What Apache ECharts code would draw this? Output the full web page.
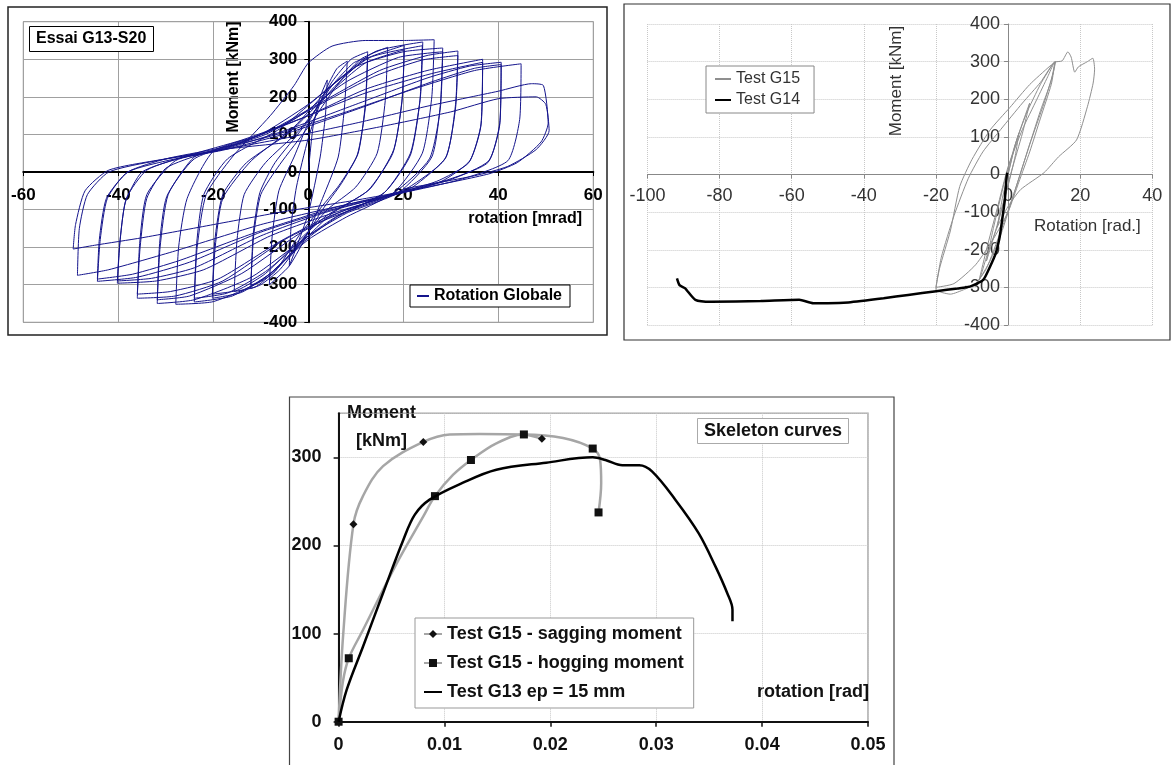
<!DOCTYPE html>
<html>
<head>
<meta charset="utf-8">
<title>Moment - rotation</title>
<script src="https://cdn.jsdelivr.net/npm/echarts@6/dist/echarts.min.js"></script>
<style>
  html, body { margin: 0; padding: 0; background: #fff; }
  #main { width: 1171px; height: 765px; }
</style>
</head>
<body>
<div id="main"></div>
<script>
// ---- chart 1 : Essai G13-S20, hysteresis loops [mrad, kNm] ----
var loop01 = [[0,0],[1,120],[2.5,200],[4,245],[3.6,150],[2.5,40],[0,-110],[-2.5,-200],[-4,-250]];
var loop02 = [[-3.6,-140],[-2.5,-40],[0,90],[3,200],[6,275],[8.2,295],[7.6,170],[6.3,40],[3,-70],[0,-160],[-4,-250],[-8.2,-300]];
var loop03 = [[-7.6,-170],[-6.2,-50],[-3,40],[0,130],[5,240],[9,300],[12.5,320],[12,180],[10.5,50],[7,-30],[3,-100],[0,-160],[-6,-260],[-10,-300],[-12.1,-310]];
var loop03b = [[-11.6,-165],[-10.2,-55],[-7,25],[-1,120],[5,230],[9.5,290],[12.5,305],[12,170],[10.3,45],[6.5,-35],[2,-105],[-2,-170],[-7,-265],[-10.5,-295],[-12.1,-300]];
var loop04 = [[-11.5,-170],[-10,-60],[-6,20],[0,120],[6,230],[11,300],[16.7,332],[16.2,190],[14.5,50],[10,-40],[4,-100],[0,-160],[-6,-250],[-11,-305],[-15.6,-318]];
var loop05 = [[-15,-180],[-13.5,-60],[-9,25],[-2,110],[5,220],[12,300],[20.2,337],[19.8,200],[18,60],[13,-45],[5,-110],[0,-170],[-8,-270],[-14,-320],[-20.2,-336]];
var loop05b = [[-19.7,-185],[-18,-60],[-13,25],[-4,105],[4,205],[12,290],[20.2,325],[19.7,185],[17.8,50],[12.5,-50],[4,-115],[-1,-170],[-9,-270],[-15,-315],[-20.2,-325]];
var loop06 = [[-19.6,-200],[-18,-70],[-12,30],[-3,120],[5,230],[14,320],[24.1,346],[23.6,200],[21.5,50],[16,-55],[6,-120],[0,-175],[-8,-270],[-16,-330],[-24,-346]];
var loop06b = [[-23.5,-190],[-22,-60],[-17,35],[-6,115],[4,220],[13,305],[24,336],[23.5,190],[21.5,45],[16,-55],[6,-118],[0,-170],[-9,-265],[-17,-322],[-24,-336]];
var loop07 = [[-23.4,-200],[-21.5,-60],[-16,40],[-8,150],[-3,230],[0,290],[5,335],[12,350],[20,350],[26.5,352],[26,200],[24,50],[18,-55],[8,-120],[0,-180],[-10,-290],[-20,-345],[-27.9,-352]];
var loop08 = [[-27.3,-200],[-25.5,-70],[-20,55],[-10,100],[0,180],[10,280],[20,320],[28.3,330],[27.8,180],[26,40],[19,-55],[8,-110],[0,-170],[-12,-280],[-24,-340],[-31.8,-350]];
var loop08b = [[-31.3,-190],[-29.8,-65],[-24,35],[-14,80],[-3,140],[8,240],[19,305],[28.3,320],[27.8,170],[25.5,35],[18,-55],[7,-105],[-2,-165],[-14,-270],[-25,-330],[-31.8,-340]];
var loop09 = [[-31.2,-200],[-29.5,-60],[-24,40],[-18,60],[-8,110],[2,180],[15,270],[25,310],[31.5,322],[31,180],[29,40],[22,-40],[17,-65],[5,-120],[-5,-180],[-18,-290],[-28,-330],[-36,-336]];
var loop09b = [[-35.5,-190],[-34,-60],[-28,30],[-20,55],[-9,100],[1,170],[14,255],[24,298],[31.5,310],[31,170],[28.8,35],[21,-42],[15,-70],[4,-120],[-6,-185],[-19,-285],[-29,-318],[-36,-325]];
var loop10 = [[-35.4,-200],[-34,-70],[-30,10],[-22,50],[-12,90],[0,150],[12,220],[25,270],[36.7,300],[36.4,130],[34,30],[28,-25],[17,-65],[5,-110],[-8,-170],[-22,-260],[-32,-290],[-40.2,-296]];
var loop10b = [[-39.6,-180],[-38.3,-70],[-34,5],[-25,45],[-14,85],[-2,140],[12,210],[26,262],[36.7,292],[36.3,120],[33.8,25],[27,-25],[16,-65],[3,-110],[-10,-170],[-24,-255],[-33,-283],[-40.2,-290]];
var loop11 = [[-39.7,-190],[-38.5,-80],[-35,0],[-26,40],[-18,60],[-5,110],[10,180],[25,250],[34,282],[40.6,292],[40.3,130],[38,30],[30,-20],[18,-60],[5,-100],[-10,-160],[-25,-240],[-36,-280],[-44.4,-291]];
var loop11b = [[-43.8,-180],[-42.3,-70],[-38,0],[-28,35],[-18,58],[-4,105],[12,175],[26,240],[35,276],[40.6,286],[40.3,125],[37.8,25],[29,-22],[17,-60],[4,-100],[-12,-165],[-27,-235],[-37,-272],[-44.4,-285]];
var loop12 = [[-44,-180],[-42.5,-70],[-38,0],[-30,35],[-20,60],[-8,95],[8,160],[22,220],[35,270],[44.8,288],[44.5,140],[42,30],[32,-20],[20,-55],[5,-95],[-10,-140],[-28,-210],[-42,-260],[-48.6,-275]];
var loop13 = [[-48.2,-150],[-46.5,-60],[-42,0],[-32,30],[-20,55],[-5,90],[10,130],[25,175],[40,215],[47,235],[49.5,230],[50.5,130],[49,80],[44,25],[38,-5],[25,-40],[10,-75],[-5,-105],[-20,-140],[-35,-175],[-45,-195],[-49.5,-205]];
var loop14 = [[-49,-140],[-47,-50],[-42,5],[-30,35],[-18,60],[0,85],[15,120],[30,160],[40,195],[48,200],[50,180],[50.7,110],[48,60],[42,15],[35,-10],[20,-45]];

// ---- chart 2 : Test G15 / Test G14 ----
var g15Path = [[0,0],[1.5,60],[3,110],[2,50],[0,-30],[-2,-100],[-3,-140],[-1.5,-60],[0,0],
  [2,80],[4.5,150],[6,190],[4,110],[1,10],[-2,-100],[-5,-200],[-6,-230],[-4,-140],[-1,-20],
  [2,80],[5,160],[9,240],[12.5,295],[13,300],[12,250],[9,170],[5,50],[2,-40],[-2,-160],[-5,-230],[-8,-280],
  [-6,-200],[-3,-90],[0,20],[4,120],[8,200],[11,260],[12.8,298],[13.2,300],[12.5,270],[10,190],[6,80],[2,-40],[-2,-150],[-6,-250],[-9,-290],
  [-12,-305],[-16,-318],[-20,-305],[-19,-250],[-16,-150],[-13.4,-32],[-10,40],[-5,118],[0.5,178],[6,239],[11.6,288],[13,297],
  [12,240],[9,150],[6,60],[3,-20],[0,-100],[-4,-170],[-9,-240],[-15,-290],[-20,-300],
  [-18.5,-220],[-15,-110],[-11,-10],[-7,60],[-2,120],[4,190],[9,245],[12.8,298],
  [15,302],[16.6,326],[17.5,312],[18.5,272],[19.5,286],[22,300],[23.5,309],[24,280],[23.6,243],[22,180],[19,92],[14,47],[10,5],[3.5,-40],[0,-85],[-3,-140],[-6,-220],[-8,-280],[-10,-300]];
var g14Path = [[-0.2,5],[-0.4,-6],[-0.9,-68],[-1.9,-139],[-2.4,-170],[-3.4,-209],[-5,-245],[-6.9,-280],[-10.6,-298],[-14,-303],[-19.9,-310],[-27.7,-320],[-34.5,-329],[-44.3,-340],[-50,-342],[-54,-342],[-57.9,-333],[-68.6,-336],[-82.3,-338],[-86.7,-333],[-89.6,-302],[-91.1,-294],[-91.8,-276]];

// ---- chart 3 : skeleton curves [rad, kNm]; 3rd value = marker shown ----
var saggingPts = [[0,0,1],[0.00044,100,0],[0.0014,224,1],[0.0023,256,0],[0.0042,290,0],[0.0080,317.5,1],[0.0105,326,0],[0.0133,326.6,0],[0.0174,326,0],[0.0192,321,1]];
var hoggingPts = [[0,0,1],[0.0004,45,0],[0.00096,72,1],[0.0023,104,0],[0.0055,180,0],[0.0080,233,0],[0.0091,256,1],[0.0108,280,0],[0.0125,297,1],[0.0149,316,0],[0.0175,326,1],[0.0212,322,0],[0.0240,310,1],[0.0247,297,0],[0.0248,271,0],[0.02455,237.5,1]];
var g13Skeleton = [[0,0],[0.00076,36],[0.0023,85],[0.0042,146],[0.0061,206],[0.0072,235],[0.0086,252],[0.0117,271],[0.0149,286],[0.0196,294],[0.0240,300],[0.0252,297],[0.0268,291],[0.0284,291],[0.0296,284],[0.0318,252],[0.0340,214],[0.0356,176],[0.0367,146],[0.0372,127],[0.0372,114]];

var g13Loops = [loop01, loop02, loop03, loop03b, loop04, loop05, loop05b, loop06, loop06b, loop07, loop08, loop08b,
  loop09, loop09b, loop10, loop10b, loop11, loop11b, loop12, loop13, loop14];

var FONT = "'Liberation Sans', Arial, sans-serif";
var chartDom = document.getElementById('main');
var myChart = echarts.init(chartDom);

function withMarkers(pts) {
  return pts.map(function (p) {
    return p[2] ? { value: [p[0], p[1]] } : { value: [p[0], p[1]], symbol: 'none' };
  });
}

// line-only legend entries (hide the default circle)
function lineOnly(name) {
  return { name: name, itemStyle: { opacity: 0 } };
}

var option = {
  animation: false,
  backgroundColor: '#fff',
  textStyle: { fontFamily: FONT },
  title: [
    {
      text: 'Essai G13-S20', left: 29, top: 26, padding: [5, 7],
      borderColor: '#000', borderWidth: 1, backgroundColor: '#fff',
      textStyle: { fontSize: 16, fontWeight: 'bold', color: '#000', fontFamily: FONT }
    },
    {
      text: 'Skeleton curves', left: 697, top: 418, padding: [4, 7],
      borderColor: '#aaa', borderWidth: 1, backgroundColor: '#fff',
      textStyle: { fontSize: 18, fontWeight: 'bold', color: '#111', fontFamily: FONT }
    }
  ],
  legend: [
    {
      data: [lineOnly('Rotation Globale')], left: 410, top: 285, selectedMode: false,
      borderColor: '#000', borderWidth: 1, backgroundColor: '#fff', padding: [3, 8, 3, 6],
      itemWidth: 12, itemHeight: 10,
      textStyle: { fontSize: 16, fontWeight: 'bold', color: '#000', fontFamily: FONT }
    },
    {
      data: [lineOnly('Test G15'), lineOnly('Test G14')], left: 706, top: 66, orient: 'vertical', selectedMode: false,
      borderColor: '#888', borderWidth: 1, backgroundColor: '#fff', padding: [5, 14, 5, 8],
      itemGap: 5, itemWidth: 16, itemHeight: 10,
      textStyle: { fontSize: 16, color: '#333', fontFamily: FONT }
    },
    {
      data: ['Test G15 - sagging moment', 'Test G15 - hogging moment', lineOnly('Test G13 ep = 15 mm')],
      left: 415, top: 618, orient: 'vertical', selectedMode: false,
      borderColor: '#999', borderWidth: 1, backgroundColor: '#fff', padding: [7, 10, 7, 8],
      itemGap: 11, itemWidth: 18, itemHeight: 10,
      textStyle: { fontSize: 18, fontWeight: 'bold', color: '#111', fontFamily: FONT }
    }
  ],
  grid: [
    { left: 23.3, top: 21.7, width: 570, height: 300.6, containLabel: false, outerBoundsMode: 'none',
      show: true, borderColor: '#888', borderWidth: 1 },
    { left: 647.4, top: 24, width: 504.9, height: 301, containLabel: false, outerBoundsMode: 'none' },
    { left: 338.6, top: 413.3, width: 529.4, height: 308.4, containLabel: false, outerBoundsMode: 'none',
      show: true, borderColor: '#a8a8a8', borderWidth: 1.5 }
  ],
  xAxis: [
    {
      // axis sits on moment = 0 (middle of the grid)
      type: 'value', gridIndex: 0, min: -60, max: 60, interval: 20, position: 'bottom', offset: -150.3,
      axisLine: { onZero: false, lineStyle: { color: '#000', width: 2 } },
      axisTick: { length: 4, lineStyle: { color: '#000' } },
      axisLabel: { margin: 15, fontSize: 17, fontWeight: 'bold', color: '#000', fontFamily: FONT },
      splitLine: { lineStyle: { color: '#a0a0a0', width: 1 } }
    },
    {
      type: 'value', gridIndex: 1, min: -100, max: 40, interval: 20, position: 'bottom', offset: -150.5,
      axisLine: { onZero: false, lineStyle: { color: '#888', width: 1 } },
      axisTick: { length: 4, lineStyle: { color: '#888' } },
      axisLabel: { margin: 13, fontSize: 18, color: '#333', fontFamily: FONT },
      splitLine: { lineStyle: { color: '#c8c8c8', type: 'dotted', width: 1 } }
    },
    {
      type: 'value', gridIndex: 2, min: 0, max: 0.05, interval: 0.01,
      axisLine: { onZero: false, lineStyle: { color: '#111', width: 2 } },
      axisTick: { length: 5, lineStyle: { color: '#111', width: 1.5 } },
      axisLabel: {
        margin: 14, fontSize: 18, fontWeight: 'bold', color: '#111', fontFamily: FONT,
        formatter: function (v) { return v === 0 ? '0' : String(+v.toFixed(2)); }
      },
      splitLine: { lineStyle: { color: '#c8c8c8', type: 'dotted', width: 1 } }
    }
  ],
  yAxis: [
    {
      type: 'value', gridIndex: 0, min: -400, max: 400, interval: 100, position: 'left', offset: -285,
      axisLine: { onZero: false, lineStyle: { color: '#000', width: 2 } },
      axisTick: { length: 4, lineStyle: { color: '#000' } },
      axisLabel: { margin: 11, fontSize: 17, fontWeight: 'bold', color: '#000', fontFamily: FONT },
      splitLine: { lineStyle: { color: '#a0a0a0', width: 1 } }
    },
    {
      type: 'value', gridIndex: 1, min: -400, max: 400, interval: 100, position: 'left', offset: -360.66,
      axisLine: { onZero: false, lineStyle: { color: '#888', width: 1 } },
      axisTick: { length: 4, lineStyle: { color: '#888' } },
      axisLabel: { margin: 8, fontSize: 18, color: '#333', fontFamily: FONT },
      splitLine: { lineStyle: { color: '#c8c8c8', type: 'dotted', width: 1 } }
    },
    {
      type: 'value', gridIndex: 2, min: 0, max: 350, interval: 100,
      axisLine: { onZero: false, lineStyle: { color: '#111', width: 2 } },
      axisTick: { length: 5, lineStyle: { color: '#111', width: 1.5 } },
      axisLabel: { margin: 17, fontSize: 18, fontWeight: 'bold', color: '#111', fontFamily: FONT, showMaxLabel: false },
      splitLine: { lineStyle: { color: '#c8c8c8', type: 'dotted', width: 1 } }
    }
  ],
  series: [
    {
      name: 'Rotation Globale', type: 'line', xAxisIndex: 0, yAxisIndex: 0,
      data: [].concat.apply([], g13Loops), symbol: 'none', smooth: 0.2,
      lineStyle: { color: '#14148c', width: 1 }, itemStyle: { color: '#14148c' }
    },
    {
      name: 'Test G15', type: 'line', xAxisIndex: 1, yAxisIndex: 1,
      data: g15Path, symbol: 'none', smooth: 0.2,
      lineStyle: { color: '#8f8f8f', width: 1 }, itemStyle: { color: '#8f8f8f' }
    },
    {
      name: 'Test G14', type: 'line', xAxisIndex: 1, yAxisIndex: 1,
      data: g14Path, symbol: 'none', smooth: 0.2,
      lineStyle: { color: '#000', width: 2.5 }, itemStyle: { color: '#000' }
    },
    {
      name: 'Test G15 - sagging moment', type: 'line', xAxisIndex: 2, yAxisIndex: 2,
      data: withMarkers(saggingPts), symbol: 'diamond', symbolSize: 8, smooth: 0.35,
      lineStyle: { color: '#a6a6a6', width: 2.5 }, itemStyle: { color: '#111' }, z: 3
    },
    {
      name: 'Test G15 - hogging moment', type: 'line', xAxisIndex: 2, yAxisIndex: 2,
      data: withMarkers(hoggingPts), symbol: 'rect', symbolSize: 8, smooth: 0.35,
      lineStyle: { color: '#a6a6a6', width: 2.5 }, itemStyle: { color: '#111' }, z: 3
    },
    {
      name: 'Test G13 ep = 15 mm', type: 'line', xAxisIndex: 2, yAxisIndex: 2,
      data: g13Skeleton, symbol: 'none', smooth: 0.35,
      lineStyle: { color: '#000', width: 2.5 }, itemStyle: { color: '#000' }, z: 4
    }
  ],
  graphic: [
    { type: 'rect', shape: { x: 8, y: 7, width: 599, height: 328 }, style: { fill: 'none', stroke: '#222', lineWidth: 1.5 }, silent: true },
    { type: 'rect', shape: { x: 624, y: 4, width: 546, height: 336 }, style: { fill: 'none', stroke: '#333', lineWidth: 1.2 }, silent: true },
    { type: 'rect', shape: { x: 289.5, y: 397, width: 604.5, height: 380 }, style: { fill: 'none', stroke: '#444', lineWidth: 1.2 }, silent: true },
    { type: 'text', x: 233.5, y: 77, rotation: Math.PI / 2, silent: true,
      style: { text: 'Moment [kNm]', fill: '#000', font: 'bold 16px ' + FONT, align: 'center', verticalAlign: 'middle', textAlign: 'center', textVerticalAlign: 'middle' } },
    { type: 'text', x: 582, y: 219, silent: true,
      style: { text: 'rotation [mrad]', fill: '#000', font: 'bold 16px ' + FONT, align: 'right', verticalAlign: 'middle', textAlign: 'right', textVerticalAlign: 'middle' } },
    { type: 'text', x: 896, y: 81, rotation: Math.PI / 2, silent: true,
      style: { text: 'Moment [kNm]', fill: '#333', font: '17px ' + FONT, align: 'center', verticalAlign: 'middle', textAlign: 'center', textVerticalAlign: 'middle' } },
    { type: 'text', x: 1034, y: 226, silent: true,
      style: { text: 'Rotation [rad.]', fill: '#333', font: '17px ' + FONT, align: 'left', verticalAlign: 'middle', textAlign: 'left', textVerticalAlign: 'middle' } },
    { type: 'text', x: 381.5, y: 413.5, silent: true,
      style: { text: 'Moment', fill: '#111', font: 'bold 18px ' + FONT, align: 'center', verticalAlign: 'middle', textAlign: 'center', textVerticalAlign: 'middle' } },
    { type: 'text', x: 381.5, y: 441.5, silent: true,
      style: { text: '[kNm]', fill: '#111', font: 'bold 18px ' + FONT, align: 'center', verticalAlign: 'middle', textAlign: 'center', textVerticalAlign: 'middle' } },
    { type: 'text', x: 869, y: 692, silent: true,
      style: { text: 'rotation [rad]', fill: '#111', font: 'bold 18px ' + FONT, align: 'right', verticalAlign: 'middle', textAlign: 'right', textVerticalAlign: 'middle' } }
  ]
};

option && myChart.setOption(option);
</script>
</body>
</html>
